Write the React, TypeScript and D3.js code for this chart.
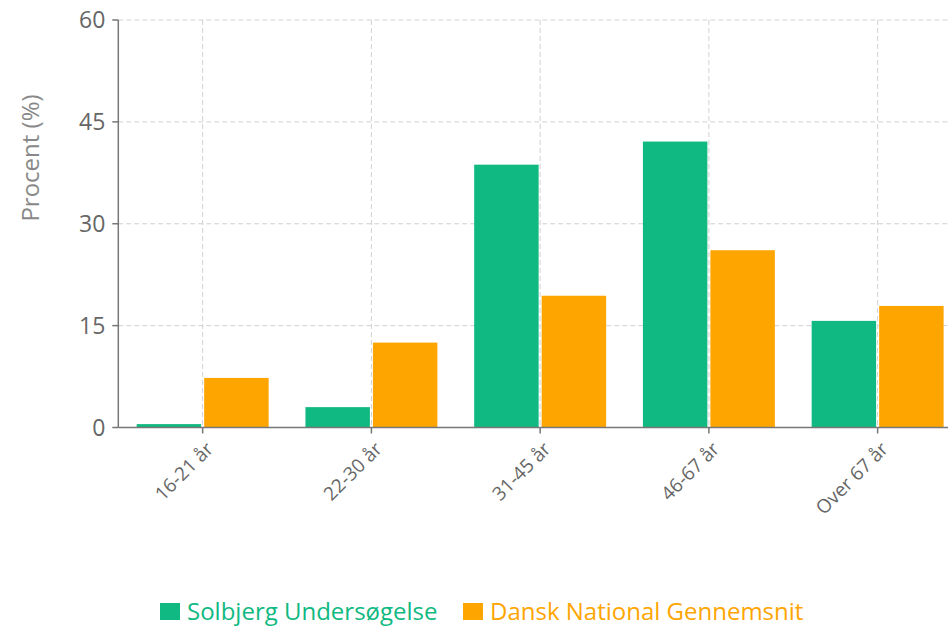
import React from "react";
import * as d3 from "d3";

// chart data
const categories = ["16-21 år", "22-30 år", "31-45 år", "46-67 år", "Over 67 år"];
const seriesNames = ["Solbjerg Undersøgelse", "Dansk National Gennemsnit"];
const solbjerg = [0.5, 3.0, 38.7, 42.1, 15.7];
const national = [7.3, 12.5, 19.4, 26.1, 17.9];
const yTicks = [0, 15, 30, 45, 60];
const colors = ["#10b981", "#ffa500"];

const W = 948;
const H = 628;
const font = "'Open Sans', 'Noto Sans', sans-serif";

export default function App() {
  // plot area (right side is cut by the window, like the original)
  const left = 118.3, right = 962, top = 20, bottom = 427.5;

  const x = d3.scaleBand<string>().domain(categories).range([left, right]).paddingInner(0.218).paddingOuter(0.109);
  const x1 = d3.scaleBand<number>().domain([0, 1]).range([0, x.bandwidth()]).paddingInner(0.045);
  const y = d3.scaleLinear().domain([0, 60]).range([bottom, top]);

  const series = [solbjerg, national];
  const center = (c: string) => (x(c) as number) + x.bandwidth() / 2;

  return (
    <svg width={W} height={H} style={{ position: "absolute", left: 0, top: 0, background: "#fff" }}>
      {/* grid */}
      <g stroke="#d0d0d0" strokeDasharray="5 3" strokeWidth={1}>
        {yTicks.filter((t) => t > 0).map((t) => (
          <line key={"h" + t} x1={left} x2={W} y1={y(t)} y2={y(t)} />
        ))}
        {categories.map((c) => (
          <line key={"v" + c} x1={center(c)} x2={center(c)} y1={top} y2={bottom} />
        ))}
      </g>

      {/* bars */}
      {series.map((vals, si) => (
        <g key={si} fill={colors[si]}>
          {vals.map((v, i) => (
            <rect
              key={i}
              x={(x(categories[i]) as number) + (x1(si) as number)}
              y={y(v)}
              width={x1.bandwidth()}
              height={y(0) - y(v)}
            />
          ))}
        </g>
      ))}

      {/* y axis */}
      <g fontFamily={font} fontSize={23} fill="#666">
        <line x1={left} x2={left} y1={top} y2={bottom} stroke="#777" strokeWidth={1.5} />
        {yTicks.map((t) => (
          <g key={t}>
            <line x1={left - 6} x2={left} y1={y(t)} y2={y(t)} stroke="#777" strokeWidth={1.5} />
            <text x={left - 13} y={y(t)} dy="0.35em" textAnchor="end">{t}</text>
          </g>
        ))}
        <text transform={`translate(31,158) rotate(-90)`} textAnchor="middle" dy="0.35em" fontSize={24} fill="#888">
          Procent (%)
        </text>
      </g>

      {/* x axis */}
      <g fontFamily={font} fontSize={19} fill="#666">
        <line x1={left} x2={W} y1={bottom} y2={bottom} stroke="#777" strokeWidth={1.5} />
        {categories.map((c) => (
          <g key={c}>
            <line x1={center(c)} x2={center(c)} y1={bottom} y2={bottom + 6} stroke="#777" strokeWidth={1.5} />
            <text transform={`translate(${center(c) + 7},${bottom + 18}) rotate(-45)`} textAnchor="end" dy="0.35em">
              {c}
            </text>
          </g>
        ))}
      </g>

      {/* legend */}
      <g fontFamily={font} fontSize={24}>
        {seriesNames.map((name, i) => {
          const lx = i === 0 ? 160 : 463;
          return (
            <g key={name} transform={`translate(${lx},603)`}>
              <rect width={20} height={17} fill={colors[i]} />
              <text x={27} y={9} dy="0.35em" fill={colors[i]}>{name}</text>
            </g>
          );
        })}
      </g>
    </svg>
  );
}
